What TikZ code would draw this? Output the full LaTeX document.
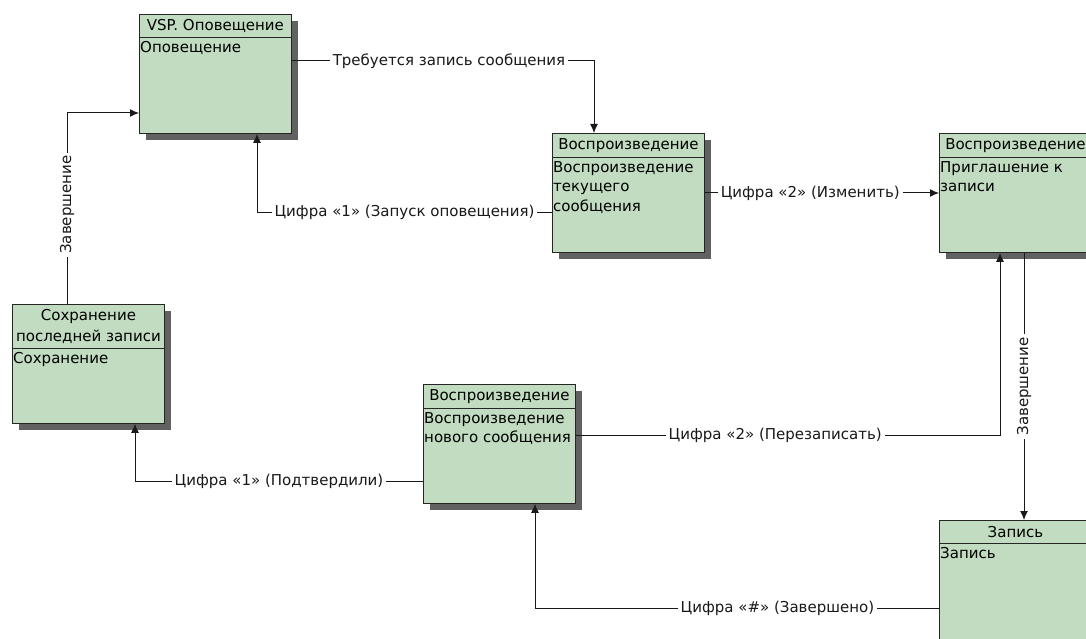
\documentclass[tikz,border=0pt]{standalone}
\usepackage{fontspec}
\setmainfont{DejaVu Sans}
\usepackage{tikz}
\usetikzlibrary{arrows.meta,positioning,calc,shadows}
\definecolor{boxgreen}{RGB}{193,220,193}

\begin{document}
\begin{tikzpicture}[
  x=1pt, y=-1pt,
  state/.style={draw=black!85, fill=boxgreen, minimum width=152pt, minimum height=119pt,
                anchor=north west, inner sep=0pt, line width=0.9pt,
                drop shadow={shadow xshift=7pt, shadow yshift=-7pt,
                fill=black!62, opacity=1}},
  head/.style={draw=black!85, fill=boxgreen, minimum width=152pt, minimum height=24pt,
               anchor=north, inner sep=0pt, align=center, line width=0.9pt,
               font=\fontsize{15}{21}\selectfont},
  body/.style={anchor=north west, inner sep=1pt, yshift=-2pt, align=left,
               font=\fontsize{15}{19.5}\selectfont},
  lbl/.style={fill=white, inner sep=3pt, font=\fontsize{15}{17}\selectfont},
  arr/.style={-{Latex[length=9pt,width=8pt]}, line width=1pt, black!90}
]
  \useasboundingbox (0,0) rectangle (1086,639);
  \clip (0,0) rectangle (1086,639);

  % VSP. Оповещение
  \node[state] (notify) at (139,14) {};
  \node[head, minimum height=23pt, label={[body]south west:Оповещение}] (notifyH)
    at (notify.north) {VSP. Оповещение};

  % Воспроизведение текущего сообщения
  \node[state] (cur) at (552,133) {};
  \node[head, label={[body]south west:Воспроизведение\\текущего\\сообщения}] (curH)
    at (cur.north) {Воспроизведение};

  % Приглашение к записи
  \node[state] (prompt) at (939,133) {};
  \node[head, label={[body]south west:Приглашение к\\записи}] (promptH)
    at (prompt.north) {Воспроизведение};

  % Сохранение последней записи
  \node[state] (save) at (12,304) {};
  \node[head, minimum height=44pt, label={[body]south west:Сохранение}] (saveH)
    at (save.north) {Сохранение\\последней записи};

  % Воспроизведение нового сообщения
  \node[state] (newmsg) at (423,384) {};
  \node[head, label={[body]south west:Воспроизведение\\нового сообщения}] (newmsgH)
    at (newmsg.north) {Воспроизведение};

  % Запись
  \node[state] (record) at (939,520) {};
  \node[head, minimum height=23pt, label={[body]south west:Запись}] (recordH)
    at (record.north) {Запись};

  % Arrows
  \draw[arr] ([yshift=-47pt]notify.north east) -| ([xshift=42pt]cur.north west)
    node[lbl, pos=0.26] {Требуется запись сообщения};
  \draw[arr] ([yshift=-79pt]cur.north west) -| ([xshift=118pt]notify.south west)
    node[lbl, pos=0.25] {Цифра «1» (Запуск оповещения)};
  \draw[arr] ([yshift=-60pt]cur.north east) -- ([yshift=-60pt]prompt.north west)
    node[lbl, pos=0.45] {Цифра «2» (Изменить)};
  \draw[arr] ([xshift=55pt]save.north west) |- ([yshift=-99pt]notify.north west)
    node[lbl, pos=0.26, rotate=90] {Завершение};
  \draw[arr] ([yshift=-97pt]newmsg.north west) -| ([xshift=123pt]save.south west)
    node[lbl, pos=0.25] {Цифра «1» (Подтвердили)};
  \draw[arr] ([yshift=-51pt]newmsg.north east) -| ([xshift=61pt]prompt.south west)
    node[lbl, pos=0.235] {Цифра «2» (Перезаписать)};
  \draw[arr] ([xshift=85pt]prompt.south west) -- ([xshift=85pt]record.north west)
    node[lbl, midway, rotate=90] {Завершение};
  \draw[arr] ([yshift=-88pt]record.north west) -| ([xshift=112pt]newmsg.south west)
    node[lbl, pos=0.2] {Цифра «\#» (Завершено)};
\end{tikzpicture}
\end{document}
